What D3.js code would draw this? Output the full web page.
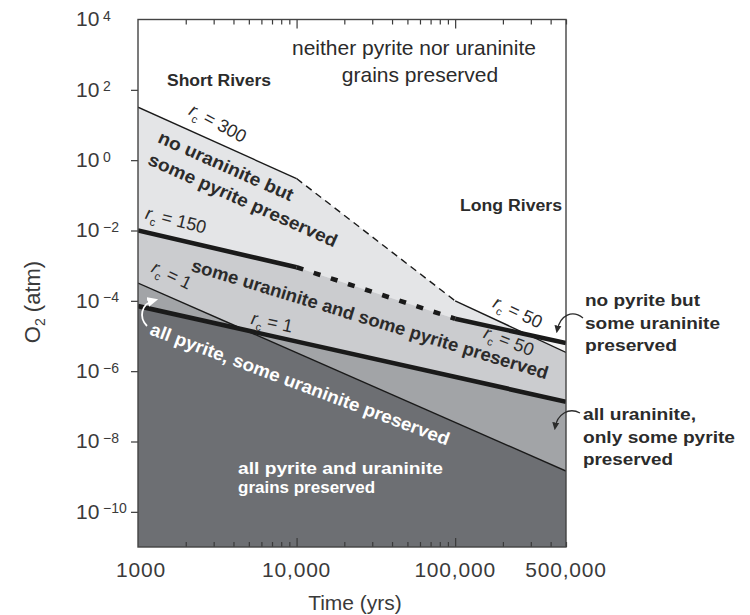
<!DOCTYPE html>
<html>
<head>
<meta charset="utf-8">
<script src="https://cdn.jsdelivr.net/npm/d3@7"></script>
<style>
  html, body { margin: 0; padding: 0; background: #fff; }
  svg { display: block; font-family: "Liberation Sans", Arial, Helvetica, sans-serif; }
</style>
</head>
<body>
<svg id="chart" width="750" height="615"></svg>
<script>
// Transport time of detrital grains (years)
const times = [1000, 10000, 100000, 500000];
// O2 above which no pyrite survives (r_c = 300 short rivers -> r_c = 50 long rivers)
const pyriteLimit = [32, 0.3, 1.0e-4, 3.4e-6];
// O2 above which no uraninite survives (r_c = 150 short rivers -> r_c = 50 long rivers)
const uraniniteLimit = [1.0e-2, 9.0e-4, 3.1e-5, 6.3e-6];
// r_c = 1 limits: below these O2 levels every grain of the mineral survives
const allTimes = [1000, 500000];
const pyriteAll = [3.2e-4, 1.45e-9];
const uraniniteAll = [7.1e-5, 1.35e-7];

// Axis labelling
const xTickValues = [1000, 10000, 100000, 500000];
const xTickLabels = ["1000", "10,000", "100,000", "500,000"];
const yTickExponents = [4, 2, 0, -2, -4, -6, -8, -10];

const C = {
  lightest: "#e4e5e7",
  sliver: "#f4f4f5",
  light: "#cbcccf",
  mid: "#a2a4a7",
  dark: "#6d6f73",
  ink: "#2b2b2b",
  axis: "#3a3a3a"
};

const svg = d3.select("#chart");
const x = d3.scaleLog().domain([1000, 500000]).range([138, 566]);
const y = d3.scaleLog().domain([1e-11, 1e4]).range([547, 19.5]);
const [x0, x1] = x.range();
const [yB, yT] = y.range();

const zip = (ts, vs) => ts.map((t, i) => [t, vs[i]]);
const pyr = zip(times, pyriteLimit);
const ura = zip(times, uraniniteLimit);
const pyrAll = zip(allTimes, pyriteAll);
const uraAll = zip(allTimes, uraniniteAll);

const area = d3.area().x(d => x(d[0])).y0(yB).y1(d => y(d[1]));
const line = d3.line().x(d => x(d[0])).y(d => y(d[1]));

const defs = svg.append("defs");
defs.append("clipPath").attr("id", "plotArea")
  .append("rect").attr("x", x0).attr("y", yT).attr("width", x1 - x0).attr("height", yB - yT);
defs.append("clipPath").attr("id", "belowPyrite").append("path").attr("d", area(pyr));
defs.append("clipPath").attr("id", "belowUraniniteAll").append("path").attr("d", area(uraAll));

function marker(id, color) {
  defs.append("marker").attr("id", id)
    .attr("viewBox", "0 0 10 10").attr("refX", 7).attr("refY", 5)
    .attr("markerWidth", 6).attr("markerHeight", 6).attr("orient", "auto")
    .append("path").attr("d", "M0,0.5 L10,5 L0,9.5 z").attr("fill", color);
}
marker("arrowDark", C.ink);
marker("arrowWhite", "#fff");

const plot = svg.append("g").attr("clip-path", "url(#plotArea)");

// Preservation fields, from the top down
plot.append("path").attr("d", area(pyr)).attr("fill", C.lightest);
plot.append("path").attr("d", area(ura)).attr("fill", C.sliver);
const lightG = plot.append("g").attr("clip-path", "url(#belowPyrite)");
lightG.append("path").attr("d", area(ura)).attr("fill", C.light);
plot.append("path").attr("d", area(pyrAll)).attr("fill", C.mid);
plot.append("path").attr("d", area(uraAll)).attr("fill", C.mid);
const darkG = plot.append("g").attr("clip-path", "url(#belowUraniniteAll)");
darkG.append("path").attr("d", area(pyrAll)).attr("fill", C.dark);

// Boundary lines: solid for short / long rivers, dashed in between
function boundary(pts, width, dash) {
  plot.append("path").attr("d", line(pts.slice(0, 2)))
    .attr("fill", "none").attr("stroke", "#1a1a1a").attr("stroke-width", width);
  plot.append("path").attr("d", line(pts.slice(1, 3)))
    .attr("fill", "none").attr("stroke", "#1a1a1a").attr("stroke-width", width)
    .attr("stroke-dasharray", dash);
  plot.append("path").attr("d", line(pts.slice(2, 4)))
    .attr("fill", "none").attr("stroke", "#1a1a1a").attr("stroke-width", width);
}
boundary(pyr, 1.4, "7,5");
boundary(ura, 4.6, "7,11");
plot.append("path").attr("d", line(pyrAll)).attr("fill", "none")
  .attr("stroke", "#1a1a1a").attr("stroke-width", 1.4);
plot.append("path").attr("d", line(uraAll)).attr("fill", "none")
  .attr("stroke", "#1a1a1a").attr("stroke-width", 4.6);

// Axes
const minor = x.ticks().filter(t => Math.abs(Math.log10(t) - Math.round(Math.log10(t))) > 1e-9);
const major = [10000, 100000];
function xAxisTicks(gen, yPos, size, values) {
  const g = svg.append("g").attr("transform", `translate(0,${yPos})`)
    .call(gen(x).tickValues(values).tickSize(size).tickFormat(""));
  g.select(".domain").remove();
  g.selectAll("line").attr("stroke", C.axis).attr("stroke-width", 1.2);
}
xAxisTicks(d3.axisBottom, yB, -5, minor);
xAxisTicks(d3.axisBottom, yB, -9, major);
xAxisTicks(d3.axisTop, yT, -5, minor);
xAxisTicks(d3.axisTop, yT, -9, major);

const yAx = svg.append("g").attr("transform", `translate(${x0},0)`)
  .call(d3.axisLeft(y).tickValues(yTickExponents.filter(e => e < 4).map(e => Math.pow(10, e)))
    .tickSize(7).tickFormat(""));
yAx.select(".domain").remove();
yAx.selectAll("line").attr("stroke", C.axis).attr("stroke-width", 1.2);

svg.append("rect").attr("x", x0).attr("y", yT).attr("width", x1 - x0).attr("height", yB - yT)
  .attr("fill", "none").attr("stroke", "#444").attr("stroke-width", 1.4);

// Tick labels
yTickExponents.forEach(e => {
  const py = y(Math.pow(10, e));
  svg.append("text").attr("x", 76).attr("y", py + 6.7).attr("font-size", 21)
    .attr("fill", C.axis).text("10");
  svg.append("text").attr("x", 103).attr("y", py + 1.5).attr("font-size", 14)
    .attr("fill", C.axis).text(e < 0 ? "\u2212" + Math.abs(e) : String(e));
});
xTickValues.forEach((v, i) => {
  svg.append("text").attr("x", x(v) + (i === 0 ? 3 : 0)).attr("y", 577)
    .attr("text-anchor", "middle").attr("font-size", 21).attr("letter-spacing", 0.8)
    .attr("fill", C.axis).text(xTickLabels[i]);
});
svg.append("text").attr("x", 355).attr("y", 610).attr("text-anchor", "middle")
  .attr("font-size", 21).attr("fill", C.axis).text("Time (yrs)");
const yl = svg.append("text").attr("transform", "translate(40,302) rotate(-90)")
  .attr("text-anchor", "middle").attr("font-size", 22).attr("fill", C.axis);
yl.append("tspan").text("O");
yl.append("tspan").attr("font-size", 14).attr("dy", 5).text("2");
yl.append("tspan").attr("dy", -5).text(" (atm)");

// Field annotations
function rotLabel(txt, cx, cy, angle, opt) {
  const t = svg.append("text")
    .attr("transform", `translate(${cx},${cy}) rotate(${angle})`)
    .attr("text-anchor", "middle").attr("dy", "0.35em")
    .attr("font-size", opt.size || 18).attr("font-weight", opt.weight || "bold")
    .attr("fill", opt.fill || C.ink).text(txt);
  if (opt.len) t.attr("textLength", opt.len).attr("lengthAdjust", "spacingAndGlyphs");
  return t;
}
function rcLabel(val, cx, cy, angle) {
  const t = svg.append("text")
    .attr("transform", `translate(${cx},${cy}) rotate(${angle})`)
    .attr("text-anchor", "middle").attr("dy", "0.35em")
    .attr("font-size", 18).attr("fill", C.ink);
  t.append("tspan").attr("font-style", "italic").text("r");
  t.append("tspan").attr("font-size", 11).attr("dy", 5).text("c");
  t.append("tspan").attr("dy", -5).text(" = " + val);
}

rcLabel("300", 218, 123, 28);
rotLabel("no uraninite but", 226, 166, 24, { len: 146 });
rotLabel("some pyrite preserved", 243, 200, 24, { len: 205 });
rcLabel("150", 176, 220, 14);
rotLabel("some uraninite and some pyrite preserved", 370, 319, 17, { len: 372 });
rcLabel("1", 172, 275, 26);
rcLabel("1", 272, 322, 12);
rotLabel("all pyrite, some uraninite preserved", 300, 384, 20.5, { len: 318, fill: "#fff" });
rcLabel("50", 518, 312, 25);
rcLabel("50", 509, 341, 21);

svg.append("text").attr("x", 238).attr("y", 474).attr("font-size", 17).attr("font-weight", "bold")
  .attr("fill", "#fff").attr("textLength", 205).attr("lengthAdjust", "spacingAndGlyphs")
  .text("all pyrite and uraninite");
svg.append("text").attr("x", 238).attr("y", 493).attr("font-size", 17).attr("font-weight", "bold")
  .attr("fill", "#fff").text("grains preserved");

svg.append("text").attr("x", 219).attr("y", 86).attr("text-anchor", "middle")
  .attr("font-size", 16).attr("font-weight", "bold").attr("fill", C.ink)
  .attr("textLength", 104).attr("lengthAdjust", "spacingAndGlyphs").text("Short Rivers");
svg.append("text").attr("x", 562).attr("y", 211).attr("text-anchor", "end")
  .attr("font-size", 16).attr("font-weight", "bold").attr("fill", C.ink)
  .attr("textLength", 102).attr("lengthAdjust", "spacingAndGlyphs").text("Long Rivers");

svg.append("text").attr("x", 414).attr("y", 55).attr("text-anchor", "middle")
  .attr("font-size", 21).attr("fill", C.ink).text("neither pyrite nor uraninite");
svg.append("text").attr("x", 420).attr("y", 82).attr("text-anchor", "middle")
  .attr("font-size", 21).attr("fill", C.ink).text("grains preserved");

// Side notes with pointers
function note(lines, xPos, yStart, widths) {
  lines.forEach((s, i) => {
    svg.append("text").attr("x", xPos).attr("y", yStart + i * 22.5)
      .attr("font-size", 16).attr("font-weight", "bold").attr("fill", C.ink)
      .attr("textLength", widths[i]).attr("lengthAdjust", "spacingAndGlyphs").text(s);
  });
}
note(["no pyrite but", "some uraninite", "preserved"], 585, 306, [115, 135, 92]);
note(["all uraninite,", "only some pyrite", "preserved"], 583, 420, [113, 152, 90]);

svg.append("path").attr("d", "M583,318 C573,310 560,314 557,331")
  .attr("fill", "none").attr("stroke", C.ink).attr("stroke-width", 1.3)
  .attr("marker-end", "url(#arrowDark)");
svg.append("path").attr("d", "M580,413 C569,407 557,414 555,428")
  .attr("fill", "none").attr("stroke", C.ink).attr("stroke-width", 1.3)
  .attr("marker-end", "url(#arrowDark)");
svg.append("path").attr("d", "M147,326 C139,318 140,304 155,300")
  .attr("fill", "none").attr("stroke", "#fff").attr("stroke-width", 1.8)
  .attr("marker-end", "url(#arrowWhite)");
</script>
</body>
</html>
